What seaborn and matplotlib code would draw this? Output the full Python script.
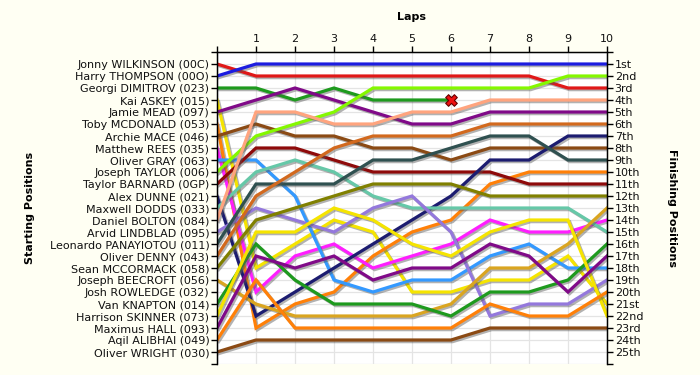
import matplotlib
matplotlib.use("Agg")
import matplotlib.pyplot as plt
import matplotlib.patheffects as pe
import seaborn as sns
import pandas as pd
import numpy as np

# ---------------- data ----------------
laps = list(range(0, 11))
drivers = [
    "Jonny WILKINSON (00C)", "Harry THOMPSON (00O)", "Georgi DIMITROV (023)",
    "Kai ASKEY (015)", "Jamie MEAD (097)", "Toby MCDONALD (053)",
    "Archie MACE (046)", "Matthew REES (035)", "Oliver GRAY (063)",
    "Joseph TAYLOR (006)", "Taylor BARNARD (0GP)", "Alex DUNNE (021)",
    "Maxwell DODDS (033)", "Daniel BOLTON (084)", "Arvid LINDBLAD (095)",
    "Leonardo PANAYIOTOU (011)", "Oliver DENNY (043)", "Sean MCCORMACK (058)",
    "Joseph BEECROFT (056)", "Josh ROWLEDGE (032)", "Van KNAPTON (014)",
    "Harrison SKINNER (073)", "Maximus HALL (093)", "Aqil ALIBHAI (049)",
    "Oliver WRIGHT (030)",
]
# position of each driver at the end of each lap (lap 0 = grid)
lap_positions = [
    [1, 2, 2, 2, 2, 2, 2, 2, 2, 3, 3],
    [2, 1, 1, 1, 1, 1, 1, 1, 1, 1, 1],
    [3, 3, 4, 3, 4, 4, 4],
    [4, 18, 16, 14, 15, 20, 20, 19, 19, 17, 21],
    [5, 4, 3, 4, 5, 6, 6, 5, 5, 5, 5],
    [6, 23, 21, 20, 17, 15, 14, 11, 10, 10, 10],
    [7, 6, 7, 7, 8, 8, 9, 8, 8, 8, 8],
    [8, 20, 17, 16, 18, 17, 16, 14, 15, 15, 14],
    [9, 9, 12, 19, 20, 19, 19, 17, 16, 18, 18],
    [10, 7, 6, 5, 3, 3, 3, 3, 3, 2, 2],
    [11, 8, 8, 9, 10, 10, 10, 10, 11, 11, 11],
    [12, 22, 20, 18, 16, 14, 12, 9, 9, 7, 7],
    [13, 10, 9, 10, 12, 13, 13, 13, 13, 13, 15],
    [14, 5, 5, 6, 6, 5, 5, 4, 4, 4, 4],
    [15, 13, 14, 15, 13, 12, 15, 22, 21, 21, 19],
    [16, 11, 11, 11, 9, 9, 8, 7, 7, 9, 9],
    [17, 12, 10, 8, 7, 7, 7, 6, 6, 6, 6],
    [18, 14, 13, 12, 11, 11, 11, 12, 12, 12, 12],
    [19, 21, 22, 22, 22, 22, 21, 18, 18, 16, 13],
    [],
    [21, 16, 19, 21, 21, 21, 22, 20, 20, 19, 16],
    [22, 15, 15, 13, 14, 16, 17, 15, 14, 14, 22],
    [23, 17, 18, 17, 19, 18, 18, 16, 17, 20, 17],
    [24, 19, 23, 23, 23, 23, 23, 21, 22, 22, 20],
    [25, 24, 24, 24, 24, 24, 24, 23, 23, 23, 23],
]
line_colors = [
    "#E01818", "#1C1CE0", "#1E9A1E", "#F5E400", "#800A88", "#FF8008",
    "#8B4A14", "#FF1EFF", "#3399FF", "#84F800", "#8E0A0A", "#1C1C70",
    "#66C8A8", "#FFA47E", "#9478DC", "#2F5050", "#D2691E", "#808000",
    "#DAA520", "#999999", "#1E9A1E", "#F5E400", "#800A88", "#FF8008",
    "#8B4A14",
]
retired_driver = "Georgi DIMITROV (023)"
finish_labels = ["1st", "2nd", "3rd"] + [f"{i}th" for i in range(4, 21)] + ["21st", "22nd", "23rd", "24th", "25th"]

# ---------------- figure ----------------
rows = []
for d, pos in zip(drivers, lap_positions):
    for lap, p in zip(laps, pos):
        rows.append({"driver": d, "lap": lap, "pos": p})
df = pd.DataFrame(rows)
palette = dict(zip(drivers, line_colors))

fig = plt.figure(figsize=(7, 3.75), dpi=100, facecolor="#FFFFF3")
ax = fig.add_axes([217 / 700, 1 - 364 / 375, 390 / 700, 312 / 375])
ax.set_facecolor("#FFFFFF")

present = [d for d, p in zip(drivers, lap_positions) if p]
sns.lineplot(data=df, x="lap", y="pos", hue="driver", hue_order=present,
             palette=palette, estimator=None, sort=False, legend=False,
             lw=2.3, ax=ax)
for ln in ax.lines:
    ln.set_path_effects([pe.SimpleLineShadow(offset=(1.2, -1.2), shadow_color="#555555", alpha=0.45),
                         pe.Normal()])
    ln.set_solid_joinstyle("miter")

# retirement marker
ret = df[df.driver == retired_driver].iloc[-1]
ax.scatter([ret.lap], [ret.pos], marker="X", s=70, color="#EE1111",
           edgecolor="#660000", linewidth=0.8, zorder=10)

ax.set_xlim(0, 10)
ax.set_ylim(26, 0)
ax.set_xticks(laps)
ax.set_xticklabels([""] + [str(l) for l in laps[1:]])
ax.xaxis.tick_top()
ax.set_yticks(range(0, 27))
ax.set_yticklabels([""] + drivers + [""])
ax.grid(True, color="#E4E4E4", lw=0.9)
ax.set_axisbelow(True)
ax.tick_params(axis="both", labelsize=8, length=4, width=1, colors="black",
               labelcolor="#111111", pad=1.5)
for s in ["left", "right", "top"]:
    ax.spines[s].set_color("black")
    ax.spines[s].set_linewidth(1)
ax.spines["bottom"].set_visible(False)
ax.set_xlabel("")
ax.set_ylabel("")

ax2 = ax.twinx()
ax2.set_ylim(26, 0)
ax2.set_yticks(range(0, 27))
ax2.set_yticklabels([""] + finish_labels + [""])
ax2.tick_params(axis="y", labelsize=8, length=4, width=1, colors="black",
                labelcolor="#111111", pad=1.5)
ax2.spines["bottom"].set_visible(False)
ax2.spines["right"].set_color("black")

fig.text(412 / 700, 1 - 17 / 375, "Laps", ha="center", va="center",
         fontsize=8, fontweight="bold")
fig.text(30 / 700, 1 - 208 / 375, "Starting Positions", ha="center",
         va="center", rotation=90, fontsize=8, fontweight="bold")
fig.text(672 / 700, 1 - 208 / 375, "Finishing Positions", ha="center",
         va="center", rotation=-90, fontsize=8, fontweight="bold")

fig.savefig("out.png", dpi=100, facecolor=fig.get_facecolor())
